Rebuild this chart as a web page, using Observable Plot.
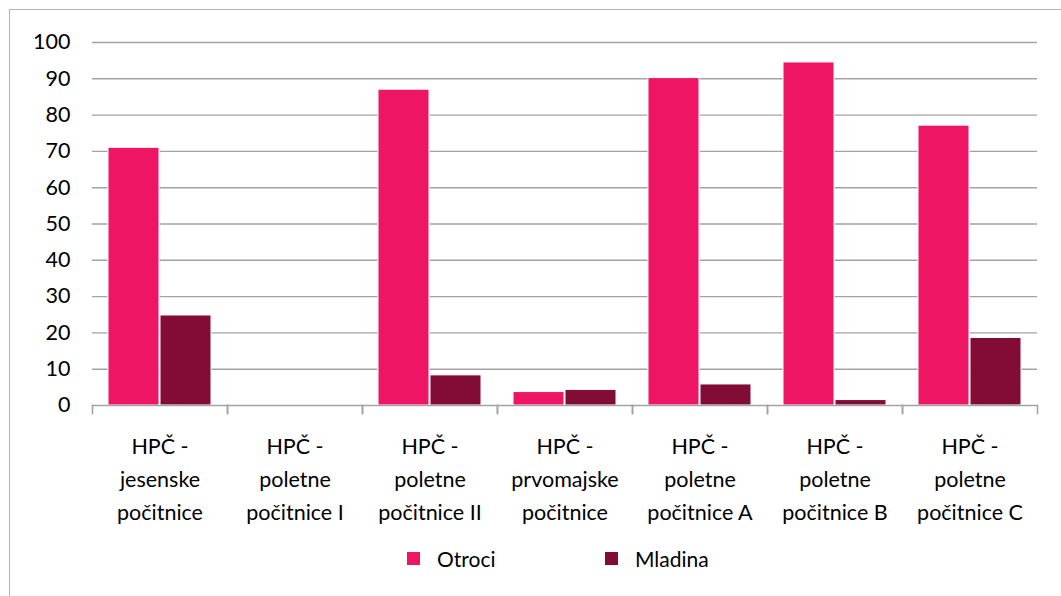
<!DOCTYPE html>
<html>
<head>
<meta charset="utf-8">
<script src="https://cdn.jsdelivr.net/npm/d3@7"></script>
<script src="https://cdn.jsdelivr.net/npm/@observablehq/plot@0.6"></script>
<style>
  html, body { margin: 0; padding: 0; background: #fff; overflow: hidden; }
  body { width: 1061px; height: 596px; position: relative; font-family: Lato, "Open Sans", sans-serif; }
  #frame { position: absolute; left: 9px; top: 9px; width: 1200px; height: 800px;
           border-left: 1.5px solid #b4b4b4; border-top: 1.5px solid #b4b4b4; pointer-events: none; }
  #chart svg { display: block; }
  #legend { position: absolute; top: 545px; left: 0; height: 26px; font-size: 21px; color: #000; }
  .item { position: absolute; top: 0; display: flex; align-items: center; height: 26px; white-space: nowrap; }
  .sw { width: 13px; height: 13px; display: inline-block; }
</style>
</head>
<body>
<div id="chart"></div>
<div id="legend"></div>
<div id="frame"></div>
<script>
const categories = [
  "HPČ - jesenske počitnice",
  "HPČ - poletne počitnice I",
  "HPČ - poletne počitnice II",
  "HPČ - prvomajske počitnice",
  "HPČ - poletne počitnice A",
  "HPČ - poletne počitnice B",
  "HPČ - poletne počitnice C"
];
const tickLabels = [
  "HPČ -\njesenske\npočitnice",
  "HPČ -\npoletne\npočitnice I",
  "HPČ -\npoletne\npočitnice II",
  "HPČ -\nprvomajske\npočitnice",
  "HPČ -\npoletne\npočitnice A",
  "HPČ -\npoletne\npočitnice B",
  "HPČ -\npoletne\npočitnice C"
];
const series = ["Otroci", "Mladina"];
const otroci = [71, 0, 87, 3.7, 90.2, 94.5, 77.1];
const mladina = [24.8, 0, 8.3, 4.3, 5.8, 1.5, 18.6];
const colors = ["#ed1564", "#820c35"];
const yTicks = [0, 10, 20, 30, 40, 50, 60, 70, 80, 90, 100];

const rows = [];
categories.forEach((c, i) => {
  rows.push({category: c, series: "Otroci", value: otroci[i]});
  rows.push({category: c, series: "Mladina", value: mladina[i]});
});

const W = 1061, H = 540, mt = 42, mb = 135, ml = 90, mr = 22;
const plotH = H - mt - mb;

const chart = Plot.plot({
  width: W,
  height: H,
  marginTop: mt,
  marginBottom: mb,
  marginLeft: ml,
  marginRight: mr,
  style: {fontFamily: "Lato, 'Open Sans', sans-serif", fontSize: "21px", color: "#000", background: "#fff"},
  fx: {domain: categories, paddingInner: 0, paddingOuter: 0, label: null},
  x: {domain: series, paddingInner: 0.02, paddingOuter: 0.29, axis: null},
  y: {domain: [0, 100], label: null},
  color: {domain: series, range: colors},
  marks: [
    Plot.gridY(yTicks.filter(d => d > 0), {stroke: "#a3a3a3", strokeOpacity: 1, strokeWidth: 1.4}),
    Plot.axisY(yTicks, {tickSize: 0, tickPadding: 22, fontSize: 21.5, label: null}),
    Plot.barY(rows, {fx: "category", x: "series", y: "value", fill: "series", stroke: "#fff", strokeWidth: 1}),
    Plot.ruleY([0], {stroke: "#a3a3a3", strokeWidth: 1.6}),
    Plot.frame({anchor: "left", stroke: "#a3a3a3", strokeWidth: 1.6, insetTop: plotH, insetBottom: -8}),
    Plot.frame({anchor: "right", stroke: "#a3a3a3", strokeWidth: 1.6, insetTop: plotH, insetBottom: -8}),
    Plot.axisFx({
      anchor: "bottom",
      tickSize: 0, tickPadding: 25, fontSize: 21.5, lineHeight: 1.53, label: null,
      tickFormat: d => tickLabels[categories.indexOf(d)]
    })
  ]
});
document.getElementById("chart").appendChild(chart);

const legend = document.getElementById("legend");
const legendX = [407, 605];
series.forEach((s, i) => {
  const item = document.createElement("div");
  item.className = "item";
  item.style.left = legendX[i] + "px";
  const sw = document.createElement("span");
  sw.className = "sw";
  sw.style.background = colors[i];
  const t = document.createElement("span");
  t.textContent = s;
  t.style.marginLeft = "17px";
  item.appendChild(sw);
  item.appendChild(t);
  legend.appendChild(item);
});
</script>
</body>
</html>
